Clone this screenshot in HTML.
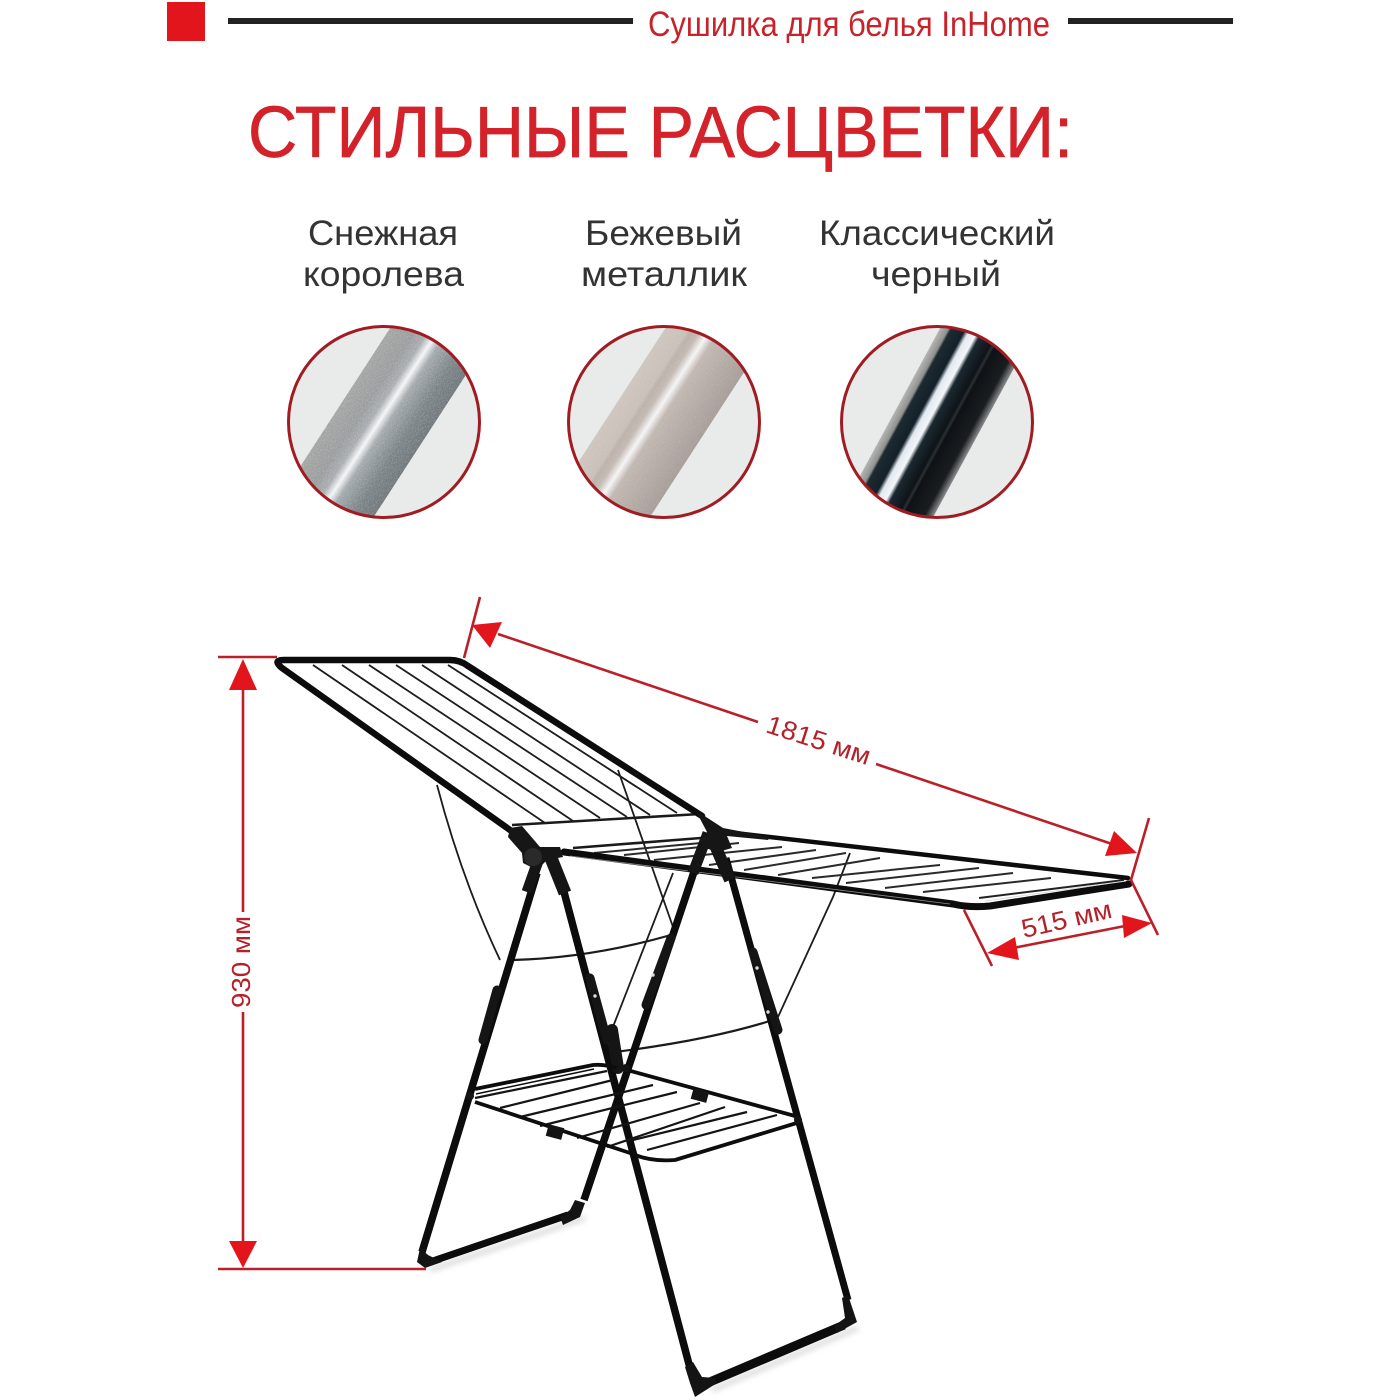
<!DOCTYPE html>
<html><head><meta charset="utf-8"><title>Сушилка для белья InHome</title>
<style>html,body{margin:0;padding:0;background:#fff}svg{display:block}
text{font-family:"Liberation Sans","DejaVu Sans",sans-serif}</style></head>
<body>
<svg width="1400" height="1400" viewBox="0 0 1400 1400" xmlns="http://www.w3.org/2000/svg">
<defs>
<clipPath id="c1"><circle cx="384" cy="422" r="95"/></clipPath>
<clipPath id="c2"><circle cx="664" cy="422" r="95"/></clipPath>
<clipPath id="c3"><circle cx="937" cy="422" r="95"/></clipPath>
<linearGradient id="g1" x1="0" x2="1" y1="0" y2="0">
<stop offset="0" stop-color="#a3a5a3"/><stop offset=".25" stop-color="#9a9d9e"/><stop offset=".38" stop-color="#a9adb0"/><stop offset=".47" stop-color="#f4f6f8"/><stop offset=".56" stop-color="#a3a9ad"/><stop offset=".8" stop-color="#7b8387"/><stop offset="1" stop-color="#70777a"/></linearGradient>
<linearGradient id="g2" x1="0" x2="1" y1="0" y2="0">
<stop offset="0" stop-color="#cfc6be"/><stop offset=".22" stop-color="#c9c0b9"/><stop offset=".26" stop-color="#bcb2ab"/><stop offset=".34" stop-color="#c4bab3"/><stop offset=".43" stop-color="#f5f5f5"/><stop offset=".52" stop-color="#c2b8b2"/><stop offset="1" stop-color="#a89e99"/></linearGradient>
<linearGradient id="g3" x1="0" x2="1" y1="0" y2="0">
<stop offset="0" stop-color="#b4b5b2"/><stop offset=".09" stop-color="#8f9290"/><stop offset=".12" stop-color="#1e2a30"/><stop offset=".27" stop-color="#14202a"/><stop offset=".32" stop-color="#e2e9f0"/><stop offset=".41" stop-color="#f2f6fa"/><stop offset=".46" stop-color="#1b2830"/><stop offset=".62" stop-color="#0e1418"/><stop offset=".65" stop-color="#2a3034"/><stop offset=".68" stop-color="#0e1216"/><stop offset=".9" stop-color="#1a1d20"/><stop offset="1" stop-color="#8a8d8e"/></linearGradient>
<filter id="soft" x="-10%" y="-10%" width="120%" height="120%"><feGaussianBlur stdDeviation="3"/></filter>
<filter id="speck" x="0" y="0" width="100%" height="100%"><feTurbulence type="fractalNoise" baseFrequency="0.9" numOctaves="2" seed="3"/><feColorMatrix values="0 0 0 0 1  0 0 0 0 1  0 0 0 0 1  1.6 0 0 0 -0.72"/><feComposite in2="SourceGraphic" operator="in"/></filter>
</defs>
<rect width="1400" height="1400" fill="#fff"/>

<!-- Header -->
<rect x="167" y="2" width="38" height="39" fill="#e2151d"/>
<rect x="228" y="18" width="405" height="6" fill="#232323"/>
<rect x="1068" y="18" width="165" height="6" fill="#232323"/>
<text x="648" y="36" font-size="35" fill="#c8222a" textLength="402" lengthAdjust="spacingAndGlyphs">Сушилка для белья InHome</text>
<text x="248" y="157" font-size="72" fill="#d4222a" stroke="#d4222a" stroke-width=".7" textLength="825" lengthAdjust="spacingAndGlyphs">СТИЛЬНЫЕ РАСЦВЕТКИ:</text>

<!-- Colour labels -->
<g font-size="35" fill="#333" style="font-family:'DejaVu Sans','Liberation Sans',sans-serif">
<text x="308" y="245" textLength="150" lengthAdjust="spacingAndGlyphs">Снежная</text>
<text x="303" y="286" textLength="161" lengthAdjust="spacingAndGlyphs">королева</text>
<text x="585" y="245" textLength="157" lengthAdjust="spacingAndGlyphs">Бежевый</text>
<text x="581" y="286" textLength="166" lengthAdjust="spacingAndGlyphs">металлик</text>
<text x="819" y="245" textLength="236" lengthAdjust="spacingAndGlyphs">Классический</text>
<text x="871" y="286" textLength="130" lengthAdjust="spacingAndGlyphs">черный</text>
</g>

<!-- Swatches -->
<g clip-path="url(#c1)"><rect x="280" y="320" width="210" height="210" fill="#e9ebea"/>
<g transform="translate(384 422) rotate(33)"><rect x="-46" y="-130" width="89" height="260" fill="url(#g1)"/><rect x="-46" y="-130" width="89" height="260" fill="#fff" filter="url(#speck)" opacity=".5"/></g></g>
<circle cx="384" cy="422" r="95.5" fill="none" stroke="#a01c22" stroke-width="3"/>
<g clip-path="url(#c2)"><rect x="560" y="320" width="210" height="210" fill="#e9ebea"/>
<g transform="translate(664 422) rotate(33)"><rect x="-50" y="-130" width="90" height="260" fill="url(#g2)"/><rect x="-50" y="-130" width="90" height="260" fill="#fff" filter="url(#speck)" opacity=".25"/></g></g>
<circle cx="664" cy="422" r="95.5" fill="none" stroke="#a01c22" stroke-width="3"/>
<g clip-path="url(#c3)"><rect x="835" y="320" width="210" height="210" fill="#e9ebea"/>
<rect x="-42" y="-130" width="84" height="260" fill="url(#g3)" transform="translate(937 422) rotate(28.5)"/></g>
<circle cx="937" cy="422" r="95.5" fill="none" stroke="#a01c22" stroke-width="3"/>

<!-- Foot shadows -->
<g stroke="#bbb" stroke-width="5" opacity=".55" filter="url(#soft)" fill="none">
<path d="M430 1270L585 1218"/><path d="M712 1390L858 1328"/>
</g>

<!-- Wires and struts -->
<g stroke="#1c1c1c" stroke-width="1.8" fill="none">
<path d="M313 665L545 823M342 665L573 821M369 665L600 818M396 665L627 817M422 665L650 815M448 665L677 813"/>
<path d="M437 785Q462 880 500 960"/>
<path d="M618 770L673 927"/>
<path d="M673 873L609 1037"/>
<path d="M850 853L833 897L778 1017"/>
<path d="M513 960Q590 958 671 935" stroke-width="2.2"/>
<path d="M615 1052Q710 1040 773 1020" stroke-width="2.2"/>
<g stroke-width="2" stroke="#2a2a2a">
<path d="M594 853L701 843M624 855L739 843M654 860L782 847M709 865L816 850M744 870L846 853M778 875L880 858M812 878L940 865M846 883L979 868M885 888L1013 873M923 892L1051 878"/>
</g>
</g>
<path d="M512 825L700 814" stroke="#1a1a1a" stroke-width="2.6" fill="none"/>
<path d="M573 848L701 838" stroke="#1a1a1a" stroke-width="2.6" fill="none"/>
<path d="M979 898L1124 880" stroke="#222" stroke-width="2" fill="none"/>

<!-- Wing frames -->
<g fill="none" stroke="#0c0c0c" stroke-linecap="round" stroke-linejoin="round">
<path d="M510 830L282 668Q272 660 284 660L450 660Q460 660 468 666L702 816" stroke-width="6.5"/>
<path d="M726 832L1128 878" stroke-width="4.5"/>
<path d="M564 852L953 904Q970 908 990 906L1129 884" stroke-width="7"/>
</g>
<path d="M570 856L950 904" stroke="#8a8a8a" stroke-width=".8" fill="none"/>
<path d="M985 901L1126 881" stroke="#ddd" stroke-width="1" fill="none"/>

<!-- Legs -->
<g fill="none" stroke="#0c0c0c">
<path d="M537 873L422 1252" stroke-width="7.5"/>
<path d="M703 845L584 1200" stroke-width="7.5"/>
<path d="M559 873L690 1368" stroke-width="7.5"/>
<path d="M726 858L848 1300" stroke-width="7"/>
</g>
<!-- Leg adjusters -->
<g fill="none" stroke="#151515" stroke-width="9" stroke-linecap="round">
<path d="M497 990L483 1040"/>
<path d="M590 978L607 1040"/>
<path d="M671 938L646 1005"/>
<path d="M753 952L778 1030"/>
<path d="M612 1030L618 1068" stroke-width="12"/>
<path d="M549 853L565 893" stroke-width="13" stroke-linecap="butt"/>
<path d="M539 858L527 892" stroke-width="11" stroke-linecap="butt"/>
<path d="M708 833L693 873" stroke-width="11" stroke-linecap="butt"/>
<path d="M714 843L730 880" stroke-width="12" stroke-linecap="butt"/>
</g>
<g fill="#ddd"><circle cx="595" cy="996" r="1.7"/><circle cx="757" cy="968" r="1.7"/><circle cx="768" cy="1012" r="1.7"/><circle cx="653" cy="975" r="1.7"/></g>

<!-- Hinges -->
<g fill="#161616">
<path d="M508 837L510 828L522 826L540 847L560 847L563 857L547 860L537 870L523 863L522 853Z"/>
<circle cx="533" cy="857" r="9" fill="#2a2a2a"/>
<path d="M697 813L703 815L723 828L770 837L768 840L727 836L732 848L718 852L705 848L700 840L707 832Z"/>
</g>

<!-- Feet -->
<g fill="none" stroke="#0c0c0c" stroke-linejoin="round">
<path d="M430 1262L568 1215" stroke-width="7"/>
<path d="M705 1384L844 1325" stroke-width="9"/>
</g>
<g fill="#141414">
<path d="M417 1262L420 1248L428 1255L442 1262L425 1268Z"/>
<path d="M575 1200L585 1203L580 1217L563 1225L560 1217L570 1210Z"/>
<path d="M685 1367L693 1362L702 1377L715 1378L717 1383L695 1397L690 1383Z"/>
<path d="M842 1298L848 1295L857 1322L837 1333L834 1326L845 1318Z"/>
</g>

<!-- Lower shelf -->
<g fill="none" stroke="#141414" stroke-width="2.2">
<path d="M475 1098L607 1071M500 1108L613 1080M520 1117L653 1085M540 1126L677 1092M577 1138L700 1103M607 1147L725 1107M633 1140L747 1112M647 1150L777 1115"/>
</g>
<g fill="none" stroke="#0d0d0d" stroke-linejoin="round">
<path d="M475 1089L593 1065Q605 1064 617 1068" stroke-width="3.8"/>
<path d="M475 1102L630 1153Q650 1162 675 1160L800 1122" stroke-width="3.8"/>
<path d="M627 1070L795 1116" stroke-width="3.8"/>
<path d="M476 1094L594 1069" stroke-width="1.5"/>
</g>
<g fill="#141414">
<rect x="547" y="1126" width="16" height="12" transform="rotate(15 555 1132)"/>
<rect x="692" y="1090" width="16" height="11" transform="rotate(15 700 1095)"/>
<circle cx="470" cy="1096" r="4"/><circle cx="798" cy="1120" r="4"/><circle cx="626" cy="1068" r="4"/>
</g>

<!-- Red dimensions -->
<g stroke="#bb2029" stroke-width="2.6" fill="none">
<path d="M218 657H277"/><path d="M218 1269H426"/>
<path d="M243 685V912"/><path d="M243 1012V1245"/>
<path d="M480 597L464 658"/>
<path d="M1149 818L1131 880L1158 935"/>
<path d="M964 910L992 966"/>
<path d="M498 634L758 722"/><path d="M876 764L1112 844"/>
<path d="M1013 948L1125 926"/>
</g>
<g fill="#e2151d">
<path d="M243 659L229 690H257Z"/>
<path d="M243 1268L229 1241H257Z"/>
<path d="M472 625L502 622L490 648Z"/>
<path d="M1137 853L1105 856L1114 831Z"/>
<path d="M987 953L1015 937L1019 960Z"/>
<path d="M1152 923L1122 915L1124 938Z"/>
</g>
<g fill="#b3222b" font-size="26">
<text x="0" y="0" transform="translate(818 742) rotate(18)" text-anchor="middle" dominant-baseline="middle" textLength="108" lengthAdjust="spacingAndGlyphs">1815 мм</text>
<text x="0" y="0" transform="translate(1067 921) rotate(-13)" text-anchor="middle" dominant-baseline="middle" textLength="92" lengthAdjust="spacingAndGlyphs">515 мм</text>
<text x="0" y="0" transform="translate(243 962) rotate(-90)" text-anchor="middle" dominant-baseline="middle" textLength="92" lengthAdjust="spacingAndGlyphs">930 мм</text>
</g>
</svg>
</body></html>
